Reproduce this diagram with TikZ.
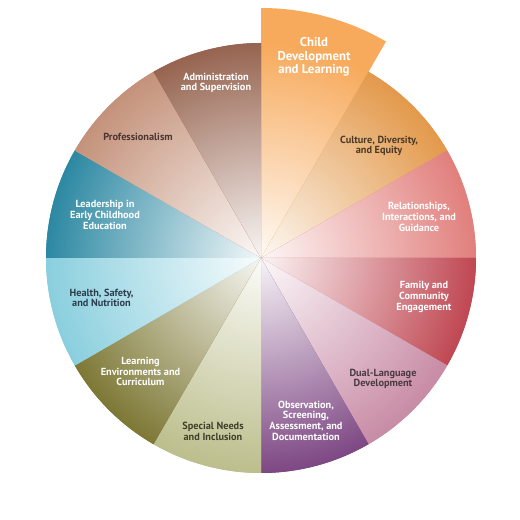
\documentclass[tikz,border=0pt]{standalone}
\usepackage{fontspec}
\setmainfont{PT Sans}
\definecolor{cChild}{HTML}{F7AA5C}
\definecolor{cCult}{HTML}{E3994B}
\definecolor{cRel}{HTML}{E17F7C}
\definecolor{cFam}{HTML}{BF4752}
\definecolor{cDual}{HTML}{C88BA5}
\definecolor{cObs}{HTML}{7D4783}
\definecolor{cSpec}{HTML}{BCBE8C}
\definecolor{cLearn}{HTML}{7D7835}
\definecolor{cHealth}{HTML}{8ACFDE}
\definecolor{cLead}{HTML}{2C88A2}
\definecolor{cProf}{HTML}{C4927A}
\definecolor{cAdmin}{HTML}{966450}
\definecolor{tCult}{HTML}{4B3A28}
\definecolor{tDual}{HTML}{4A3A40}
\definecolor{tSpec}{HTML}{40402A}
\definecolor{tHealth}{HTML}{2C3E4C}
\definecolor{tProf}{HTML}{4A3630}
\begin{document}
\begin{tikzpicture}[x=1pt,y=1pt,
  lbl/.style={font=\bfseries\fontsize{10.3}{10.7}\selectfont, align=center, inner sep=0pt},
  biglbl/.style={font=\bfseries\fontsize{12.8}{13.7}\selectfont, align=center, inner sep=0pt}]
\useasboundingbox (0,0) rectangle (520,520);
\coordinate (O) at (261,262);
\foreach \a/\c/\r in {90/cChild/250, 60/cCult/215, 30/cRel/215, 0/cFam/215,
  -30/cDual/215, -60/cObs/215, -90/cSpec/215, -120/cLearn/215,
  -150/cHealth/215, -180/cLead/215, -210/cProf/215, -240/cAdmin/215} {
  \begin{scope}
    \clip (O) -- ++(\a:\r) arc[start angle=\a, end angle=\a-30, radius=\r] -- cycle;
    \fill[\c] (O) circle (\r+5);
    \shade[inner color=\c!6!white, outer color=\c] (O) circle (215);
  \end{scope}
}
\node[biglbl, text=white] (child) at (314,463) {Child\\Development\\and Learning};
\node[lbl, text=white] (admin) at (216,437) {Administration\\and Supervision};
\node[lbl, text=tCult] (cult) at (379,374) {Culture, Diversity,\\and Equity};
\node[lbl, text=white] (rel) at (419,303) {Relationships,\\Interactions, and\\Guidance};
\node[lbl, text=white] (fam) at (424,223) {Family and\\Community\\Engagement};
\node[lbl, text=tDual] (dual) at (383,141) {Dual-Language\\Development};
\node[lbl, text=white] (obs) at (306,99.5) {Observation,\\Screening,\\Assessment, and\\Documentation};
\node[lbl, text=tSpec] (spec) at (213,88.7) {Special Needs\\and Inclusion};
\node[lbl, text=white] (learn) at (140.5,148.3) {Learning\\Environments and\\Curriculum};
\node[lbl, text=tHealth] (health) at (101.5,222) {Health, Safety,\\and Nutrition};
\node[lbl, text=white] (lead) at (105,305) {Leadership in\\Early Childhood\\Education};
\node[lbl, text=tProf] (prof) at (138,383.3) {Professionalism};
\end{tikzpicture}
\end{document}
